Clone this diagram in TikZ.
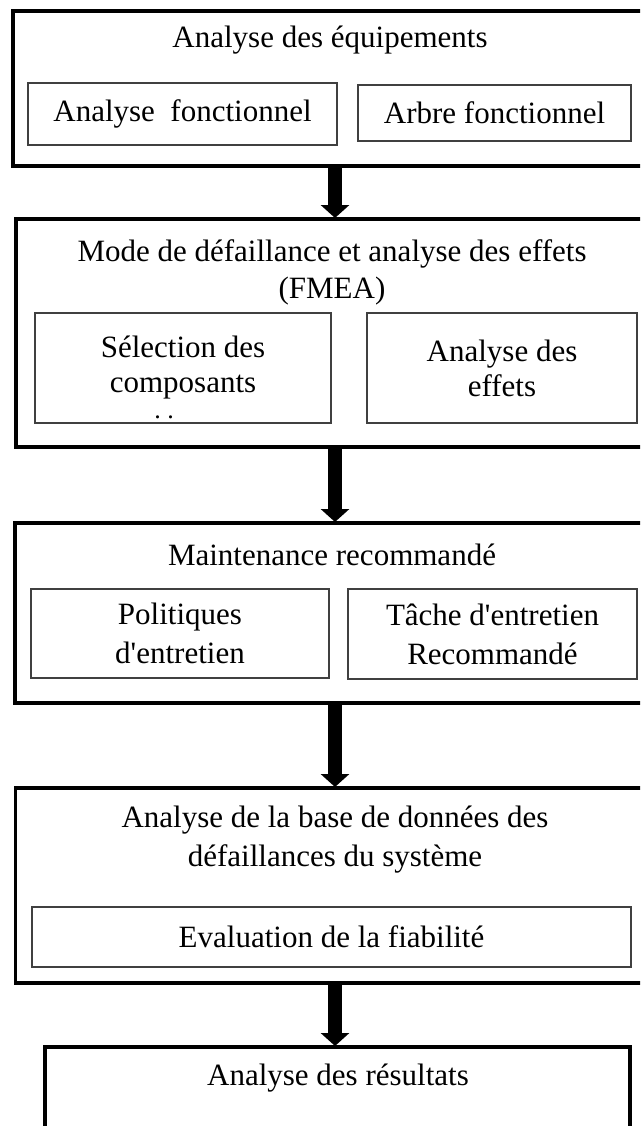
\documentclass[tikz,border=0pt]{standalone}
\usepackage{fontspec}
\setmainfont{Liberation Serif}[Ligatures=TeXOff]
\usetikzlibrary{arrows.meta}

\begin{document}
\begin{tikzpicture}[
  x=1pt,y=-1pt,
  font=\fontsize{31}{39}\selectfont,
  stage/.style={draw,line width=3.5pt,anchor=north west,outer sep=0pt,inner sep=0pt},
  part/.style={draw=black!75,line width=1.2pt,anchor=north west,outer sep=0pt,
               inner sep=0pt,align=center},
  title/.style={align=center,inner sep=0pt},
  flow/.style={line width=14pt,-{Triangle[length=13pt,width=28pt]},shorten >=1pt}
]
  \clip (0,0) rectangle (640,1126);

  % outer stages
  \node[stage,minimum width=647pt,minimum height=155pt] (equip) at (13,11) {};
  \node[stage,minimum width=644pt,minimum height=228pt] (fmea) at (16,219) {};
  \node[stage,minimum width=645pt,minimum height=180pt] (maint) at (15,523) {};
  \node[stage,minimum width=645pt,minimum height=195pt] (base) at (15.5,788) {};
  \node[stage,minimum width=585pt,minimum height=120pt] (result) at (45,1047) {};

  % titles
  \node[title] (equiptitle) at (330,40) {Analyse des équipements};
  \node[title] (fmeatitle) at (332,272) {Mode de défaillance et analyse des effets\\[-2pt](FMEA)};
  \node[title] (mainttitle) at (332,555) {Maintenance recommandé};
  \node[title] (basetitle) at (335,840) {Analyse de la base de données des\\défaillances du système};
  \node[title] (resulttitle) at (338,1078) {Analyse des résultats};

  % inner parts
  \node[part,minimum width=309pt,minimum height=62pt] (afonc) at (28,83) {Analyse\ \ fonctionnel};
  \node[part,minimum width=273pt,minimum height=56pt] (arbre) at (358,85) {Arbre fonctionnel};
  \node[part,minimum width=296pt,minimum height=110pt] (select) at (35,313) {Sélection des\\[-4pt]composants};
  \node[inner sep=0pt,font=\fontsize{26}{26}\selectfont,text height=3pt,text depth=0pt]
    (dots) at (164,417) {.\ .};
  \node[part,minimum width=270pt,minimum height=110pt] (effets) at (367,313) {Analyse des\\[-4pt]effets};
  \node[part,minimum width=298pt,minimum height=89pt] (polit) at (31,589) {Politiques\\d'entretien};
  \node[part,minimum width=289pt,minimum height=90pt] (tache) at (348,589) {Tâche d'entretien\\Recommandé};
  \node[part,minimum width=599pt,minimum height=60pt] (evalf) at (32,907) {Evaluation de la fiabilité};

  % flow arrows
  \coordinate (axis) at (335,0);
  \draw[flow] (axis |- equip.south) -- (axis |- fmea.north);
  \draw[flow] (axis |- fmea.south) -- (axis |- maint.north);
  \draw[flow] (axis |- maint.south) -- (axis |- base.north);
  \draw[flow] (axis |- base.south) -- (axis |- result.north);
\end{tikzpicture}
\end{document}
